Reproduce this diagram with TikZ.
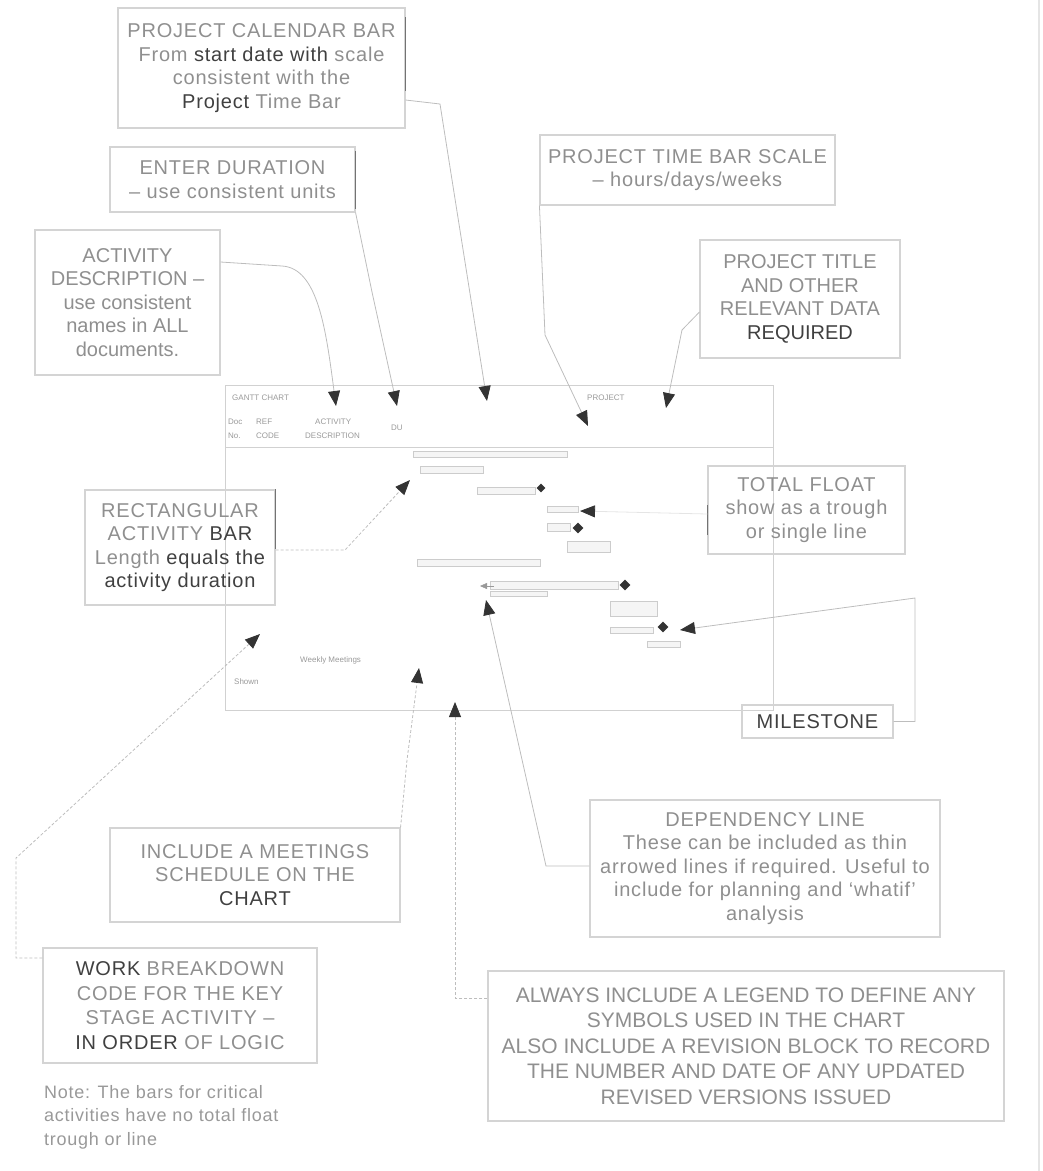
\documentclass[tikz,border=0pt]{standalone}
\usepackage{fontspec}
\setmainfont{Liberation Sans}
\newfontfamily\widefont{Liberation Sans}[LetterSpace=4]
\usetikzlibrary{arrows.meta,shapes.geometric}
\newcommand{\dk}[1]{\textcolor{black!75}{#1}}

\begin{document}
\begin{tikzpicture}[x=1pt, y=-1pt,
    tag/.style={draw=black!17, line width=1.1pt, align=center, inner sep=0pt,
        text=black!44, font=\widefont\fontsize{20}{23.5}\selectfont},
    plain/.style={font=\fontsize{20}{23.5}\selectfont},
    chart/.style={draw=black!18, line width=0.8pt},
    bar/.style={draw=black!20, fill=black!4, line width=0.6pt},
    tiny/.style={text=black!40, font=\fontsize{8}{9}\selectfont, inner sep=0pt, anchor=west},
    lead/.style={draw=black!26, line width=0.8pt,
        -{Triangle[length=15pt,width=12pt,color=black!80]}},
    edge/.style={draw=black!55, line width=1.3pt},
    mstone/.style={diamond, fill=black!80, inner sep=0pt, minimum size=11pt}]
    \useasboundingbox (0,0) rectangle (1043,1171);
    \draw[black!10, line width=2pt] (1039,0) -- (1039,1171);

    % Gantt chart frame and header
    \draw[chart] (225,385) rectangle (773,710);
    \draw[chart] (225,447) -- (773,447);
    \node[tiny] (gc) at (232,398) {GANTT CHART};
    \node[tiny] (hdoc) at (228,422) {Doc};
    \node[tiny] (href) at (256,422) {REF};
    \node[tiny] (hact) at (315,422) {ACTIVITY};
    \node[tiny] (hno) at (228,436) {No.};
    \node[tiny] (hcode) at (256,436) {CODE};
    \node[tiny] (hdesc) at (305,436) {DESCRIPTION};
    \node[tiny] (hdu) at (391,428) {DU};
    \node[tiny] (hproj) at (587,398) {PROJECT};
    \node[tiny] (meetw) at (300,660) {Weekly Meetings};
    \node[tiny] (shown) at (234,682) {Shown};

    % activity bars and milestones
    \foreach \xa/\ya/\xb/\yb in {413/451/567/457, 420/466/483/473, 477/487/535/494,
        547/506/578/512, 547/523/570/531, 567/541/610/552, 417/559/540/566,
        490/581/618/589, 490/591/547/596, 610/601/657/616, 610/627/653/633,
        647/641/680/647}
        \draw[bar] (\xa,\ya) rectangle (\xb,\yb);
    \node[mstone, minimum size=9pt] (ms1) at (541,488) {};
    \node[mstone] (ms2) at (578,528) {};
    \node[mstone] (ms3) at (625,585) {};
    \node[mstone] (ms4) at (663,627) {};
    \draw[black!40, -{Triangle[length=7pt,width=6pt]}] (494,586) -- (480,586);

    % arrow ends in the chart
    \coordinate (tcal) at (487,401);
    \coordinate (tdur) at (397,406);
    \coordinate (tact) at (336,406);
    \coordinate (tscale) at (588,426);
    \coordinate (ttitle) at (666,408);
    \coordinate (trect) at (410,480);
    \coordinate (tfloat) at (580,511);
    \coordinate (tmile) at (680,630);
    \coordinate (tdep) at (486,600);
    \coordinate (tmeet) at (419,668);
    \coordinate (tleg) at (455,702);
    \coordinate (twbs) at (260,634);

    % notes
    \node[tag, minimum width=287pt, minimum height=120pt] (cal) at (261.5,68)
        {PROJECT CALENDAR BAR\\From \dk{start date with} scale\\consistent with the\\\dk{Project} Time Bar};
    \node[tag, minimum width=245pt, minimum height=65pt] (dur) at (232.5,179.5)
        {ENTER DURATION\\– use consistent units};
    \node[tag, plain, minimum width=185pt, minimum height=145pt] (act) at (127.5,302.5)
        {ACTIVITY\\DESCRIPTION –\\use consistent\\names in ALL\\documents.};
    \node[tag, minimum width=295pt, minimum height=70pt] (scale) at (687.5,170)
        {PROJECT TIME BAR SCALE\\– hours/days/weeks};
    \node[tag, plain, minimum width=200pt, minimum height=118pt] (title) at (800,299)
        {PROJECT TITLE\\AND OTHER\\RELEVANT DATA\\\dk{REQUIRED}};
    \node[tag, minimum width=190pt, minimum height=115pt] (rect) at (180,547.5)
        {RECTANGULAR\\ACTIVITY \dk{BAR}\\Length \dk{equals the}\\\dk{activity duration}};
    \node[tag, minimum width=197pt, minimum height=88pt] (float) at (806.5,510)
        {TOTAL FLOAT\\show as a trough\\or single line};
    \node[tag, minimum width=151pt, minimum height=33pt] (mile) at (817.5,721.5)
        {\dk{MILESTONE}};
    \node[tag, minimum width=350pt, minimum height=137pt] (dep) at (765,868.5)
        {DEPENDENCY LINE\\These can be included as thin\\arrowed lines if required. Useful to\\include for planning and ‘whatif’\\analysis};
    \node[tag, minimum width=516pt, minimum height=150pt, font=\fontsize{21}{25.5}\selectfont] (legend) at (746,1046)
        {ALWAYS INCLUDE A LEGEND TO DEFINE ANY\\SYMBOLS USED IN THE CHART\\ALSO INCLUDE A REVISION BLOCK TO RECORD\\THE NUMBER AND DATE OF ANY UPDATED\\REVISED VERSIONS ISSUED};
    \node[tag, minimum width=290pt, minimum height=94pt] (meet) at (255,875)
        {INCLUDE A MEETINGS\\SCHEDULE ON THE\\\dk{CHART}};
    \node[tag, minimum width=274pt, minimum height=115pt, font=\widefont\fontsize{20}{24.5}\selectfont] (wbs) at (180,1005.5)
        {\dk{WORK} BREAKDOWN\\CODE FOR THE KEY\\STAGE ACTIVITY –\\\dk{IN ORDER} OF LOGIC};
    \node[anchor=north west, align=left, inner sep=0pt, text=black!40,
        font=\widefont\fontsize{18}{23.5}\selectfont] (note) at (44,1085)
        {Note: The bars for critical\\activities have no total float\\trough or line};

    % darker box edges
    \draw[edge] ([yshift=-10pt]cal.north east) -- ([yshift=38pt]cal.south east);
    \draw[edge] ([yshift=-5pt]dur.north east) -- ([yshift=4pt]dur.south east);
    \draw[edge] (rect.north east) -- ([yshift=57pt]rect.south east);
    \draw[edge] ([yshift=-40pt]float.north west) -- ([yshift=20pt]float.south west);

    % leaders
    \draw[lead] (cal.east |- 0,100) -- (440,104) -- (tcal);
    \draw[lead] (dur.south east) -- (372,292) -- (tdur);
    \draw[lead] (act.east |- 0,262) -- (282,266) .. controls (318,268) and (326,330) .. (tact);
    \draw[lead] (scale.south west) -- (545,335) -- (tscale);
    \draw[lead] (title.west |- 0,312) -- (682,330) -- (ttitle);
    \draw[lead, densely dashed] (rect.east |- 0,550) -- (345,550) -- (trect);
    \draw[lead, draw=black!10] (float.west |- 0,514) -- (tfloat);
    \draw[lead] (mile.east) -- (915,721.5) -- (915,598) -- (tmile);
    \draw[lead] (dep.west |- 0,866) -- (546,866) -- (tdep);
    \draw[lead, densely dashed] (legend.west |- 0,998) -- (455,998) -- (tleg);
    \draw[lead, densely dashed] (meet.north east) -- (407,760) -- (tmeet);
    \draw[lead, densely dashed] (wbs.west |- 0,958) -- (16,958) -- (16,858) -- (twbs);
\end{tikzpicture}
\end{document}
